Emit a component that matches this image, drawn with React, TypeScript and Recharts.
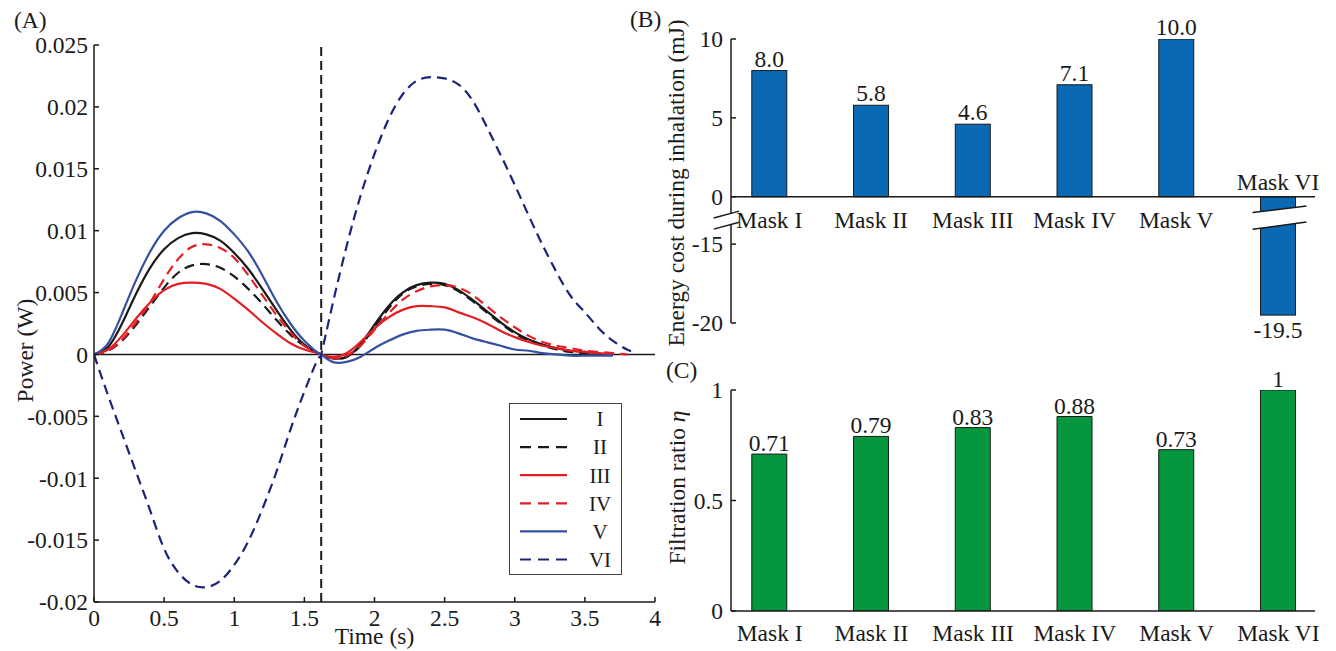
import React from "react";
import {
  LineChart,
  Line,
  XAxis,
  YAxis,
  ReferenceLine,
  BarChart,
  Bar,
  LabelList,
} from "recharts";

const FONT = "'Liberation Serif', 'Times New Roman', serif";
const INK = "#1a1a1a";
const FS = 23.5;

// (A) power over one breath, sampled every 0.1 s
const TIME = [
  0, 0.1, 0.2, 0.3, 0.4, 0.5, 0.6, 0.7, 0.8, 0.9, 1.0, 1.1, 1.2, 1.3, 1.4, 1.5, 1.6, 1.62,
  1.7, 1.8, 1.9, 2.0, 2.1, 2.2, 2.3, 2.4, 2.5, 2.6, 2.7, 2.8, 2.9, 3.0, 3.1, 3.2, 3.3, 3.4,
  3.5, 3.6, 3.7, 3.8, 3.85,
];
const POWER_I = [
  0, 0.0006, 0.0025, 0.0049, 0.007, 0.0085, 0.0094, 0.0098, 0.0097, 0.0092, 0.0082, 0.0069,
  0.0053, 0.0036, 0.002, 0.0008, 0.0001, 0, -0.0003, -0.0002, 0.0008, 0.0024, 0.0039, 0.005,
  0.0056, 0.0058, 0.0057, 0.0052, 0.0044, 0.0035, 0.0026, 0.0018, 0.0012, 0.0008, 0.0005,
  0.0003, 0.0002, 0.0001, null, null, null,
];
const POWER_II = [
  0, 0.0003, 0.0011, 0.0024, 0.0039, 0.0054, 0.0066, 0.0072, 0.0073, 0.007, 0.0063, 0.0053,
  0.0041, 0.0028, 0.0016, 0.0007, 0.0001, 0, -0.0003, -0.0002, 0.0007, 0.0022, 0.0037, 0.0049,
  0.0055, 0.0057, 0.0056, 0.0051, 0.0043, 0.0034, 0.0025, 0.0017, 0.0011, 0.0007, 0.0004,
  0.0002, 0.0001, 0, null, null, null,
];
const POWER_III = [
  0, 0.0004, 0.0015, 0.0029, 0.0042, 0.0052, 0.0057, 0.0058, 0.0057, 0.0053, 0.0045, 0.0036,
  0.0026, 0.0017, 0.0009, 0.0004, 0.0001, 0, -0.0002, 0.0001, 0.001, 0.0021, 0.003, 0.0036,
  0.0039, 0.0039, 0.0038, 0.0034, 0.003, 0.0025, 0.0019, 0.0014, 0.001, 0.0007, 0.0005,
  0.0003, 0.0002, 0.0001, 0, null, null,
];
const POWER_IV = [
  0, 0.0003, 0.0012, 0.0026, 0.0042, 0.0061, 0.0077, 0.0087, 0.0089, 0.0086, 0.0078, 0.0064,
  0.0048, 0.0032, 0.0018, 0.0007, 0.0001, 0, -0.0003, -0.0001, 0.0007, 0.002, 0.0033, 0.0044,
  0.0051, 0.0055, 0.0056, 0.0054, 0.0048, 0.0039, 0.003, 0.0022, 0.0015, 0.001, 0.0007,
  0.0005, 0.0003, 0.0002, 0.0001, 0, null,
];
const POWER_V = [
  0, 0.0009, 0.0033, 0.006, 0.0083, 0.01, 0.011, 0.0115, 0.0114, 0.0108, 0.0097, 0.0083,
  0.0064, 0.0043, 0.0025, 0.0011, 0.0001, 0, -0.0006, -0.0006, -0.0002, 0.0005, 0.0011, 0.0016,
  0.0019, 0.002, 0.002, 0.0017, 0.0013, 0.001, 0.0007, 0.0004, 0.0003, 0.0001, 0, -0.0001,
  -0.0001, -0.0001, -0.0001, null, null,
];
const POWER_VI = [
  0, -0.0033, -0.0064, -0.0095, -0.0126, -0.0157, -0.0176, -0.0186, -0.0188, -0.0183, -0.017,
  -0.0151, -0.0125, -0.0095, -0.0061, -0.003, -0.0003, 0, 0.004, 0.0087, 0.0128, 0.0162, 0.019,
  0.021, 0.0221, 0.0224, 0.0223, 0.0218, 0.0205, 0.0184, 0.0161, 0.0137, 0.0112, 0.0088,
  0.0066, 0.0047, 0.0034, 0.0021, 0.0011, 0.0004, 0.0002,
];
const INHALE_END = 1.62;
const TIME_TICKS = [0, 0.5, 1, 1.5, 2, 2.5, 3, 3.5, 4];
const POWER_TICKS = [-0.02, -0.015, -0.01, -0.005, 0, 0.005, 0.01, 0.015, 0.02, 0.025];

// (B) and (C)
const MASKS = ["Mask I", "Mask II", "Mask III", "Mask IV", "Mask V", "Mask VI"];
const ENERGY = [8.0, 5.8, 4.6, 7.1, 10.0, -19.5];
const ENERGY_TICKS = [10, 5, 0, -15, -20];
const FILTRATION = [0.71, 0.79, 0.83, 0.88, 0.73, 1];
const FILTRATION_TICKS = [0, 0.5, 1];

const SERIES = [
  { key: "I", values: POWER_I, color: "#1a1a1a", dash: undefined },
  { key: "II", values: POWER_II, color: "#1a1a1a", dash: "10 6" },
  { key: "III", values: POWER_III, color: "#e31e24", dash: undefined },
  { key: "IV", values: POWER_IV, color: "#e31e24", dash: "10 6" },
  { key: "V", values: POWER_V, color: "#3550a3", dash: undefined },
  { key: "VI", values: POWER_VI, color: "#1c2479", dash: "10 6" },
];

const powerData = TIME.map((t, i) => {
  const row: any = { t };
  SERIES.forEach((s) => (row[s.key] = s.values[i]));
  return row;
});

// broken axis in (B): negative values are pulled up by BREAK_SHIFT
const BREAK_SHIFT = 12;
const toDisplay = (v: number) => (v >= 0 ? v : v + BREAK_SHIFT);
const fromDisplay = (d: number) => (d >= 0 ? d : d - BREAK_SHIFT);

const MASK_X_DOMAIN = [0.62, 6.36];
const MASK_X_TICKS = MASKS.map((_, i) => i + 1);

const energyData = MASKS.map((name, i) => ({
  idx: i + 1,
  name,
  value: ENERGY[i],
  display: toDisplay(ENERGY[i]),
}));
const filtrationData = MASKS.map((name, i) => ({ idx: i + 1, name, value: FILTRATION[i] }));

const tickStyle = { fill: INK, fontSize: FS, fontFamily: FONT };

function boxOf(p: any) {
  const vb = p.viewBox && p.viewBox.width != null ? p.viewBox : p;
  const x = Number(vb.x);
  const y = Number(vb.y);
  const w = Number(vb.width);
  const h = Number(vb.height);
  return { left: x, right: x + w, cx: x + w / 2, top: Math.min(y, y + h), bottom: Math.max(y, y + h) };
}

function Txt(props: any) {
  return <text textAnchor="middle" fontSize={FS} fill={INK} fontFamily={FONT} {...props} />;
}

function EnergyLabel(p: any) {
  const b = boxOf(p);
  const v = Number(p.value);
  const name = MASKS[p.index];
  if (v >= 0) {
    return (
      <g>
        <Txt x={b.cx} y={b.top - 4}>{v.toFixed(1)}</Txt>
        <Txt x={b.cx} y={b.bottom + 31}>{name}</Txt>
      </g>
    );
  }
  return (
    <g>
      <Txt x={b.cx} y={b.bottom + 23}>{v.toFixed(1)}</Txt>
      <Txt x={b.cx} y={b.top - 7}>{name}</Txt>
    </g>
  );
}

function FiltrationLabel(p: any) {
  const b = boxOf(p);
  return <Txt x={b.cx} y={b.top - 3}>{String(p.value)}</Txt>;
}

// bar with a break drawn across it (only for negative values)
function EnergyBar(p: any) {
  const x = Number(p.x);
  const w = Number(p.width);
  const y = Number(p.y);
  const h = Number(p.height);
  const top = Math.min(y, y + h);
  const bottom = Math.max(y, y + h);
  const rect = (
    <rect x={x} y={top} width={w} height={bottom - top} fill={p.fill} stroke={INK} strokeWidth={1} />
  );
  if (!p.payload || p.payload.value >= 0) return rect;
  const ppu = (bottom - top) / Math.abs(p.payload.display);
  const yAt = (d: number) => top - d * ppu;
  const xl = x - 8;
  const xr = x + w + 11;
  const upper = [yAt(-1.0), yAt(-0.58)];
  const lower = [yAt(-2.06), yAt(-1.6)];
  const lerp = (pair: number[], xp: number) => pair[0] + ((pair[1] - pair[0]) * (xp - xl)) / (xr - xl);
  const a = x - 1;
  const c = x + w + 1;
  return (
    <g>
      {rect}
      <polygon
        points={`${a},${lerp(upper, a)} ${c},${lerp(upper, c)} ${c},${lerp(lower, c)} ${a},${lerp(lower, a)}`}
        fill="#fff"
      />
      <line x1={xl} y1={upper[0]} x2={xr} y2={upper[1]} stroke={INK} strokeWidth={1.5} />
      <line x1={xl} y1={lower[0]} x2={xr} y2={lower[1]} stroke={INK} strokeWidth={1.5} />
    </g>
  );
}

function rotatedTitle(text: React.ReactNode, dxFromAxisBox: number, dyFromCenter: number) {
  return (p: any) => {
    const vb = p.viewBox;
    const cx = vb.x + dxFromAxisBox;
    const cy = vb.y + vb.height / 2 + dyFromCenter;
    return (
      <text
        x={cx}
        y={cy}
        dy="0.35em"
        transform={`rotate(-90, ${cx}, ${cy})`}
        textAnchor="middle"
        fontSize={FS}
        fill={INK}
        fontFamily={FONT}
      >
        {text}
      </text>
    );
  };
}

function PowerLegend() {
  return (
    <div
      style={{
        position: "absolute",
        left: 509,
        top: 403,
        width: 113,
        height: 172,
        boxSizing: "border-box",
        border: "1px solid #444",
        background: "#fff",
      }}
    >
      <svg width={111} height={170} style={{ display: "block" }}>
        {SERIES.map((s, i) => {
          const cy = 15 + i * 28.1;
          return (
            <g key={s.key}>
              <line x1={10} x2={57} y1={cy} y2={cy} stroke={s.color} strokeWidth={2.2} strokeDasharray={s.dash ? "11 7" : undefined} />
              <text x={90} y={cy} dy="0.35em" textAnchor="middle" fontSize={21} fill={INK} fontFamily={FONT}>
                {s.key}
              </text>
            </g>
          );
        })}
      </svg>
    </div>
  );
}

export default function App() {
  return (
    <div style={{ position: "absolute", left: 0, top: 0, width: 1336, height: 651, background: "#fff", fontFamily: FONT }}>
      {/* (A) */}
      <div style={{ position: "absolute", left: 0, top: 0 }}>
        <LineChart width={670} height={651} data={powerData} margin={{ top: 45, right: 15, bottom: 9, left: 24 }}>
          <XAxis
            dataKey="t"
            type="number"
            domain={[0, 4]}
            ticks={TIME_TICKS}
            allowDataOverflow
            height={40}
            tickSize={-5}
            tickMargin={12}
            stroke={INK}
            strokeWidth={1.5}
            tick={tickStyle}
            label={{
              content: (p: any) => {
                const vb = p.viewBox;
                return (
                  <text x={vb.x + vb.width / 2} y={644} textAnchor="middle" fontSize={FS} fill={INK} fontFamily={FONT}>
                    Time (s)
                  </text>
                );
              },
            }}
          />
          <XAxis
            xAxisId="top"
            orientation="top"
            type="number"
            domain={[0, 4]}
            ticks={TIME_TICKS}
            allowDataOverflow
            height={0}
            tickSize={-5}
            tickFormatter={() => ""}
            stroke={INK}
            strokeWidth={1.5}
          />
          <YAxis
            type="number"
            domain={[-0.02, 0.025]}
            ticks={POWER_TICKS}
            allowDataOverflow
            width={70}
            tickSize={-5}
            tickMargin={11}
            stroke={INK}
            strokeWidth={1.5}
            tick={tickStyle}
            label={{ content: rotatedTitle("Power (W)", 1, 27) }}
          />
          <YAxis
            yAxisId="right"
            orientation="right"
            type="number"
            domain={[-0.02, 0.025]}
            ticks={POWER_TICKS}
            allowDataOverflow
            width={0}
            tickSize={-5}
            tickFormatter={() => ""}
            stroke={INK}
            strokeWidth={1.5}
          />
          <ReferenceLine y={0} stroke={INK} strokeWidth={1.5} />
          <ReferenceLine x={INHALE_END} stroke={INK} strokeWidth={2} strokeDasharray="9 5" />
          {SERIES.map((s) => (
            <Line
              key={s.key}
              dataKey={s.key}
              type="natural"
              stroke={s.color}
              strokeWidth={2.2}
              strokeDasharray={s.dash}
              dot={false}
              activeDot={false}
              connectNulls={false}
              isAnimationActive={false}
            />
          ))}
        </LineChart>
        <PowerLegend />
      </div>

      {/* (B) */}
      <div style={{ position: "absolute", left: 660, top: 0 }}>
        <BarChart width={676} height={360} data={energyData} margin={{ top: 39, right: 21, bottom: 37, left: 11 }}>
          <XAxis dataKey="idx" type="number" domain={MASK_X_DOMAIN} allowDataOverflow hide />
          <YAxis
            type="number"
            domain={[toDisplay(-20), 10]}
            ticks={ENERGY_TICKS.map(toDisplay)}
            tickFormatter={(d: number) => String(fromDisplay(d))}
            allowDataOverflow
            axisLine={false}
            width={60}
            tickSize={-5}
            tickMargin={13}
            stroke={INK}
            strokeWidth={1.5}
            tick={tickStyle}
            label={{ content: rotatedTitle("Energy cost during inhalation (mJ)", 5, 2) }}
          />
          <ReferenceLine
            segment={[{ x: MASK_X_DOMAIN[0], y: 10 }, { x: MASK_X_DOMAIN[0], y: -1.05 }]}
            stroke={INK}
            strokeWidth={1.5}
          />
          <ReferenceLine
            segment={[{ x: MASK_X_DOMAIN[0], y: -1.75 }, { x: MASK_X_DOMAIN[0], y: toDisplay(-20) }]}
            stroke={INK}
            strokeWidth={1.5}
          />
          <ReferenceLine
            segment={[{ x: 0.45, y: -1.35 }, { x: 0.7, y: -0.91 }]}
            ifOverflow="visible"
            stroke={INK}
            strokeWidth={1.5}
          />
          <ReferenceLine
            segment={[{ x: 0.45, y: -2.05 }, { x: 0.7, y: -1.61 }]}
            ifOverflow="visible"
            stroke={INK}
            strokeWidth={1.5}
          />
          <ReferenceLine y={0} stroke={INK} strokeWidth={1.5} />
          <Bar dataKey="display" fill="#0a69b5" barSize={35} shape={EnergyBar} isAnimationActive={false}>
            <LabelList dataKey="value" content={EnergyLabel} />
          </Bar>
        </BarChart>
      </div>

      {/* (C) */}
      <div style={{ position: "absolute", left: 660, top: 360 }}>
        <BarChart width={676} height={291} data={filtrationData} margin={{ top: 30, right: 21, bottom: 0, left: 11 }}>
          <XAxis
            dataKey="idx"
            type="number"
            domain={MASK_X_DOMAIN}
            ticks={MASK_X_TICKS}
            interval={0}
            allowDataOverflow
            tickFormatter={(v: number) => MASKS[v - 1]}
            height={40}
            tickSize={0}
            tickMargin={13}
            stroke={INK}
            strokeWidth={1.5}
            tick={tickStyle}
          />
          <YAxis
            type="number"
            domain={[0, 1]}
            ticks={FILTRATION_TICKS}
            allowDataOverflow
            width={60}
            tickSize={-5}
            tickMargin={13}
            stroke={INK}
            strokeWidth={1.5}
            tick={tickStyle}
            label={{
              content: rotatedTitle(
                <>
                  Filtration ratio <tspan fontStyle="italic">η</tspan>
                </>,
                6,
                -13
              ),
            }}
          />
          <Bar dataKey="value" fill="#05973e" stroke={INK} strokeWidth={1} barSize={35} isAnimationActive={false}>
            <LabelList dataKey="value" content={FiltrationLabel} />
          </Bar>
        </BarChart>
      </div>

      {/* panel letters */}
      <svg width={1336} height={651} style={{ position: "absolute", left: 0, top: 0, pointerEvents: "none" }}>
        <text x={14} y={28} fontSize={FS} fill={INK} fontFamily={FONT}>(A)</text>
        <text x={630} y={27} fontSize={FS} fill={INK} fontFamily={FONT}>(B)</text>
        <text x={666} y={378} fontSize={FS} fill={INK} fontFamily={FONT}>(C)</text>
      </svg>
    </div>
  );
}
